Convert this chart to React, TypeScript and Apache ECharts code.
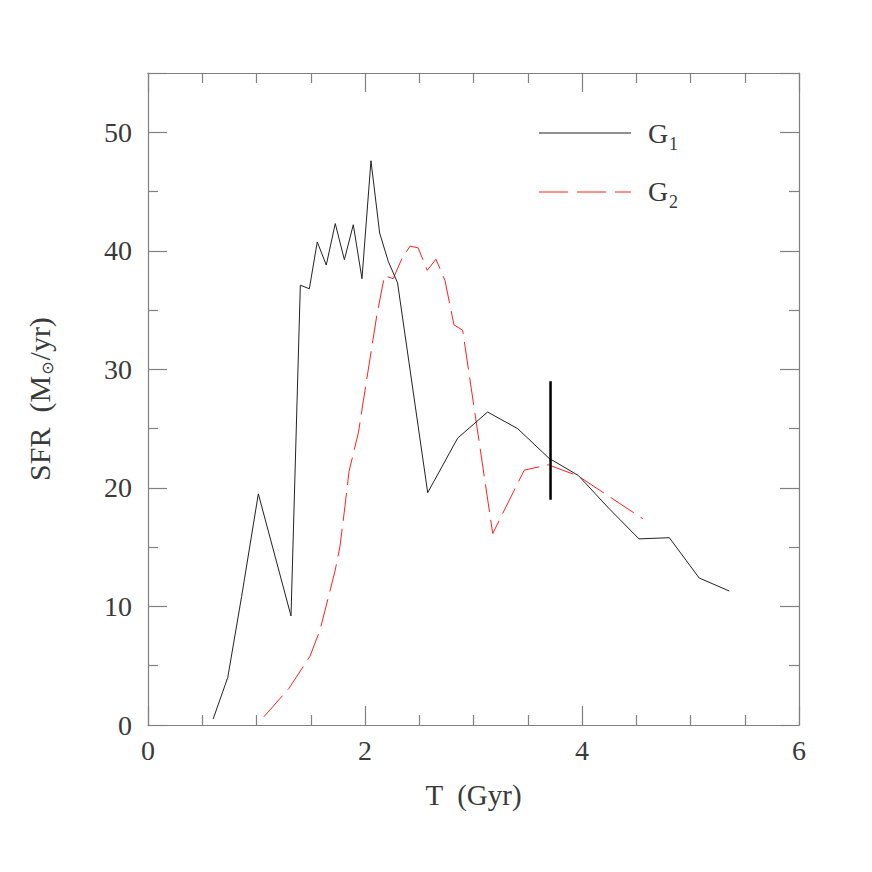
import React, { useEffect, useRef } from "react";
import * as echarts from "echarts";

// G1 star formation history (time in Gyr, SFR in Msun/yr)
const g1Time = [0.60, 0.735, 0.863, 1.017, 1.318, 1.404, 1.487, 1.56, 1.643, 1.726, 1.81, 1.892, 1.972, 2.055, 2.135, 2.215, 2.30, 2.578, 2.854, 3.13, 3.407, 3.696, 3.966, 4.245, 4.525, 4.805, 5.08, 5.358];
const g1Sfr = [0.5, 4.0, 10.85, 19.5, 9.2, 37.1, 36.8, 40.75, 38.8, 42.3, 39.25, 42.2, 37.65, 47.6, 41.5, 39.1, 37.3, 19.6, 24.2, 26.4, 25.0, 22.5, 21.05, 18.3, 15.7, 15.8, 12.4, 11.3];

// G2 star formation history
const g2Time = [1.069, 1.30, 1.493, 1.585, 1.724, 1.77, 1.816, 1.853, 1.94, 1.985, 2.046, 2.108, 2.18, 2.26, 2.338, 2.415, 2.49, 2.574, 2.654, 2.737, 2.82, 2.90, 3.177, 3.468, 3.69, 3.966, 4.56];
const g2Sfr = [0.7, 3.1, 5.8, 8.0, 13.0, 15.1, 18.5, 21.4, 24.7, 27.35, 30.9, 34.5, 37.9, 37.65, 39.3, 40.4, 40.25, 38.35, 39.3, 37.5, 33.75, 33.3, 16.15, 21.5, 21.95, 21.0, 17.4];

// vertical error bar
const barTime = [3.71, 3.71];
const barSfr = [19, 29];

const xTicks = { min: 0, max: 6, interval: 2 };
const yTicks = { min: 0, max: 55, interval: 10 };

const FONT = "'Liberation Serif', 'DejaVu Serif', serif";
const TXT = "#3a3a3a";
const FRAME = "#808080";

export default function App() {
  const ref = useRef<HTMLDivElement>(null);
  useEffect(() => {
    if (!ref.current) return;
    const chart = echarts.init(ref.current, undefined, { renderer: "svg" });
    const zip = (a: number[], b: number[]) => a.map((v, i) => [v, b[i]]);
    const axisCommon = (minorSplit: number) => ({
      axisLine: { show: true, onZero: false, lineStyle: { color: FRAME, width: 1.2 } },
      axisTick: { show: true, inside: true, length: 19, lineStyle: { color: FRAME, width: 1.2 } },
      minorTick: { show: true, splitNumber: minorSplit, length: 10, lineStyle: { color: FRAME, width: 1.2 } },
      splitLine: { show: false },
      minorSplitLine: { show: false },
    });
    chart.setOption({
      animation: false,
      backgroundColor: "#fff",
      grid: { left: 148, top: 73, right: 73, bottom: 147, containLabel: false },
      xAxis: [
        {
          type: "value",
          ...xTicks,
          position: "bottom",
          ...axisCommon(4),
          axisLabel: { fontSize: 28, margin: 11, fontFamily: FONT, color: TXT },
          name: "T  (Gyr)",
          nameLocation: "middle",
          nameGap: 55,
          nameTextStyle: { fontSize: 29, fontFamily: FONT, color: TXT },
        },
        {
          type: "value",
          ...xTicks,
          position: "top",
          ...axisCommon(4),
          axisLabel: { show: false },
        },
      ],
      yAxis: [
        {
          type: "value",
          ...yTicks,
          position: "left",
          ...axisCommon(2),
          axisLabel: {
            fontSize: 28,
            margin: 16,
            fontFamily: FONT,
            color: TXT,
            showMaxLabel: false,
          },
          name: "SFR  (M{sub|⊙}/yr)",
          nameLocation: "middle",
          nameGap: 93,
          nameRotate: 90,
          nameTextStyle: {
            fontSize: 30,
            fontFamily: FONT,
            color: TXT,
            rich: {
              sub: { fontSize: 16, fontFamily: "'DejaVu Sans', sans-serif", color: TXT, padding: [15, 1, 0, 1] },
            },
          },
        },
        {
          type: "value",
          ...yTicks,
          position: "right",
          ...axisCommon(2),
          axisLabel: { show: false },
        },
      ],
      series: [
        {
          name: "G1",
          type: "line",
          data: zip(g1Time, g1Sfr),
          showSymbol: false,
          lineStyle: { color: "#222", width: 1 },
          z: 3,
        },
        {
          name: "G2",
          type: "line",
          data: zip(g2Time, g2Sfr),
          showSymbol: false,
          lineStyle: { color: "#ff2020", width: 1, type: [28, 8] },
          z: 2,
        },
        {
          name: "bar",
          type: "line",
          data: zip(barTime, barSfr),
          showSymbol: false,
          lineStyle: { color: "#000", width: 2.5 },
          z: 4,
        },
      ],
      graphic: [
        { type: "line", shape: { x1: 539, y1: 133, x2: 631, y2: 133 }, style: { stroke: "#222", lineWidth: 1 } },
        { type: "line", shape: { x1: 539, y1: 192, x2: 631, y2: 192 }, style: { stroke: "#ff2020", lineWidth: 1, lineDash: [29, 9] } },
        { type: "text", x: 648, y: 133, style: { text: "G", fontSize: 28, fontFamily: FONT, fill: TXT, verticalAlign: "middle", align: "left" } },
        { type: "text", x: 669, y: 144, style: { text: "1", fontSize: 18, fontFamily: FONT, fill: TXT, verticalAlign: "middle", align: "left" } },
        { type: "text", x: 648, y: 191, style: { text: "G", fontSize: 28, fontFamily: FONT, fill: TXT, verticalAlign: "middle", align: "left" } },
        { type: "text", x: 669, y: 202, style: { text: "2", fontSize: 18, fontFamily: FONT, fill: TXT, verticalAlign: "middle", align: "left" } },
      ],
    });
    return () => chart.dispose();
  }, []);
  return (
    <div
      ref={ref}
      style={{ position: "absolute", left: 0, top: 0, width: 872, height: 872, background: "#fff" }}
    />
  );
}
